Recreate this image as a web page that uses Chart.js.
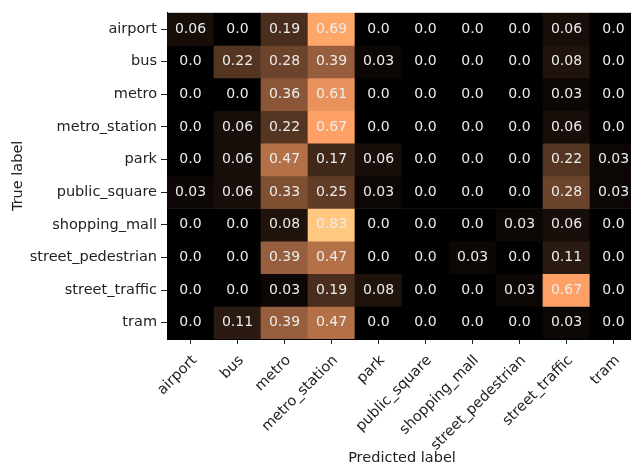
<!DOCTYPE html>
<html>
<head>
<meta charset="utf-8">
<script src="https://cdn.jsdelivr.net/npm/chart.js@4"></script>
<style>
  html, body { margin: 0; padding: 0; background: #fff; overflow: hidden; }
  #wrap { width: 640px; height: 469px; }
</style>
</head>
<body>
<div id="wrap"><canvas id="cm" width="640" height="469"></canvas></div>
<script>
// label kelas (sama untuk baris dan kolom)
var trueLabels = ["airport", "bus", "metro", "metro_station", "park", "public_square",
                  "shopping_mall", "street_pedestrian", "street_traffic", "tram"];
var predLabels = ["airport", "bus", "metro", "metro_station", "park", "public_square",
                  "shopping_mall", "street_pedestrian", "street_traffic", "tram"];

// nilai confusion matrix per baris (true label)
var rowAirport    = [0.06, 0.0, 0.19, 0.69, 0.0, 0.0, 0.0, 0.0, 0.06, 0.0];
var rowBus        = [0.0, 0.22, 0.28, 0.39, 0.03, 0.0, 0.0, 0.0, 0.08, 0.0];
var rowMetro      = [0.0, 0.0, 0.36, 0.61, 0.0, 0.0, 0.0, 0.0, 0.03, 0.0];
var rowMetroSt    = [0.0, 0.06, 0.22, 0.67, 0.0, 0.0, 0.0, 0.0, 0.06, 0.0];
var rowPark       = [0.0, 0.06, 0.47, 0.17, 0.06, 0.0, 0.0, 0.0, 0.22, 0.03];
var rowPublicSq   = [0.03, 0.06, 0.33, 0.25, 0.03, 0.0, 0.0, 0.0, 0.28, 0.03];
var rowShopping   = [0.0, 0.0, 0.08, 0.83, 0.0, 0.0, 0.0, 0.03, 0.06, 0.0];
var rowStreetPed  = [0.0, 0.0, 0.39, 0.47, 0.0, 0.0, 0.03, 0.0, 0.11, 0.0];
var rowStreetTraf = [0.0, 0.0, 0.03, 0.19, 0.08, 0.0, 0.0, 0.03, 0.67, 0.0];
var rowTram       = [0.0, 0.11, 0.39, 0.47, 0.0, 0.0, 0.0, 0.0, 0.03, 0.0];

var matrix = [rowAirport, rowBus, rowMetro, rowMetroSt, rowPark, rowPublicSq,
              rowShopping, rowStreetPed, rowStreetTraf, rowTram];

var vmax = 0;
matrix.forEach(function (r) { r.forEach(function (v) { if (v > vmax) vmax = v; }); });

// colormap "copper" ala matplotlib
function copper(v) {
  var t = v / vmax;
  var r = Math.min(1, 1.25 * t) * 255;
  var g = 0.7812 * t * 255;
  var b = 0.4975 * t * 255;
  return 'rgb(' + Math.round(r) + ',' + Math.round(g) + ',' + Math.round(b) + ')';
}

function fmt(v) {
  var s = String(v);
  return s.indexOf('.') === -1 ? v.toFixed(1) : s;
}

// satu dataset per baris, tiap sel = bar mengambang [i-0.5, i+0.5]
var datasets = matrix.map(function (row, i) {
  return {
    label: trueLabels[i],
    data: row.map(function () { return [i - 0.5, i + 0.5]; }),
    backgroundColor: row.map(copper),
    borderWidth: 0,
    barPercentage: 1.0,
    categoryPercentage: 1.0
  };
});

// tulis angka di tengah sel
var cellText = {
  id: 'cellText',
  afterDatasetsDraw: function (chart) {
    var ctx = chart.ctx;
    var xs = chart.scales.x, ys = chart.scales.y;
    ctx.save();
    ctx.font = '14px "DejaVu Sans"';
    ctx.fillStyle = '#ececec';
    ctx.textAlign = 'center';
    ctx.textBaseline = 'middle';
    matrix.forEach(function (row, i) {
      row.forEach(function (v, j) {
        ctx.fillText(fmt(v), xs.getPixelForValue(j), ys.getPixelForValue(i));
      });
    });
    ctx.restore();
  }
};

var ctx = document.getElementById('cm').getContext('2d');
var myChart = new Chart(ctx, {
  type: 'bar',
  data: { labels: predLabels, datasets: datasets },
  plugins: [cellText],
  options: {
    responsive: false,
    animation: false,
    events: [],
    layout: { padding: { top: 7, right: 3, left: 0, bottom: 0 } },
    plugins: { legend: { display: false }, tooltip: { enabled: false } },
    scales: {
      x: {
        stacked: true,
        offset: true,
        afterFit: function (s) { s.height = 130; },
        grid: { offset: false, drawOnChartArea: false, color: '#222', tickLength: 5 },
        border: { color: '#000' },
        ticks: {
          color: '#222', font: { family: 'DejaVu Sans', size: 14.5 },
          maxRotation: 45, minRotation: 45, autoSkip: false, padding: 8, labelOffset: 4
        },
        title: {
          display: true, text: 'Predicted label', color: '#222',
          font: { family: 'DejaVu Sans', size: 14.5 }, padding: { top: 0, bottom: 2 }
        }
      },
      y: {
        stacked: false,
        reverse: true,
        min: -0.5,
        max: 9.5,
        afterFit: function (s) { s.width = 167; },
        afterBuildTicks: function (s) {
          s.ticks = trueLabels.map(function (l, i) { return { value: i }; });
        },
        grid: { drawOnChartArea: false, color: '#222', tickLength: 6 },
        border: { color: '#000' },
        ticks: {
          color: '#222', font: { family: 'DejaVu Sans', size: 14.5 }, padding: 4,
          callback: function (v) { return trueLabels[v]; }
        },
        title: {
          display: true, text: 'True label', color: '#222',
          font: { family: 'DejaVu Sans', size: 14.5 }, padding: { top: 10, bottom: 0 }
        }
      }
    }
  }
});
</script>
</body>
</html>
